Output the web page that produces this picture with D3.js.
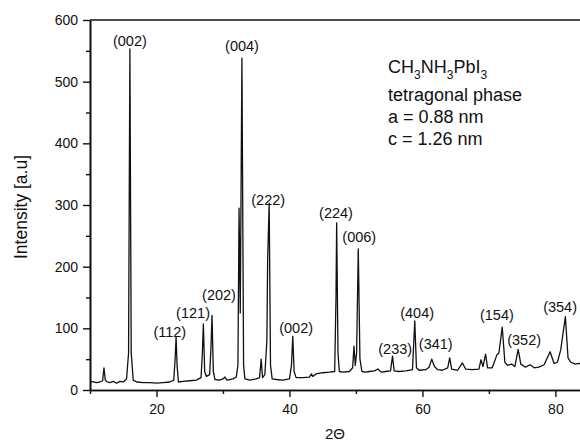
<!DOCTYPE html>
<html><head><meta charset="utf-8">
<script src="https://cdn.jsdelivr.net/npm/d3@7"></script>
<style>body{margin:0;background:#fff}svg{display:block}text{font-family:"Liberation Sans",Arial,sans-serif;fill:#111}</style>
</head><body><svg id="c" width="580" height="443"></svg>
<script>
const twoTheta = [10,10.5,11,11.5,11.9,12.1,12.3,12.6,13,13.5,14,14.5,15,15.5,15.8,16.0,16.2,16.5,17,18,19,20,21,22,22.6,22.8,22.95,23.1,23.3,24,25,26,26.7,26.9,27.05,27.25,27.5,28.0,28.2,28.35,28.55,28.8,29.5,30,30.3,30.6,31,31.5,32,32.25,32.42,32.6,32.85,33.1,33.3,34,35,35.5,35.75,35.95,36.3,36.6,36.72,36.95,37.15,37.4,38,39,40,40.3,40.5,40.7,41,42,43,43.3,43.5,44,45,46,46.8,47.0,47.1,47.3,47.5,48,49,49.5,49.7,49.9,50.1,50.35,50.6,50.9,51.5,52,52.8,53.3,53.8,54.5,55.2,55.5,55.75,56.5,57.5,58.5,58.85,59.1,59.5,60.5,61,61.4,61.8,62.3,63,63.8,64.1,64.4,65.3,66.0,66.5,67.5,68.5,68.8,69.1,69.5,69.8,70.5,71.2,71.5,72.0,72.4,72.8,73.4,73.9,74.4,74.8,75.5,76.2,76.8,77.5,78.3,79.2,79.8,80.3,80.8,81.5,81.9,82.3,83,83.5,84];
const intensity = [14,13,12,13,15,36,16,13,12,14,11,14,13,18,60,553,60,16,13,12,12,11,12,13,16,50,86,40,13,14,15,16,20,60,107,30,22,25,70,121,30,17,16,18,21,16,17,18,21,40,295,125,538,40,18,16,18,20,50,20,25,80,211,303,40,18,17,16,18,40,87,30,20,20,21,26,22,26,28,29,30,150,271,60,30,29,30,36,71,40,60,229,50,30,29,30,31,34,29,30,31,55,31,30,31,33,112,36,32,33,37,50,38,33,32,36,52,34,32,44,34,33,34,49,38,58,36,36,57,60,102,45,40,42,38,66,42,37,41,36,37,41,62,43,45,65,119,52,45,42,43,42];
const peakLabels = ["(002)","(112)","(121)","(202)","(004)","(222)","(002)","(224)","(006)","(233)","(404)","(341)","(154)","(352)","(354)"];
const peakLabelX = [16.0,22.0,25.5,29.4,32.86,36.8,41.0,47.0,50.5,55.9,59.2,62.0,71.2,75.3,80.7];
const peakLabelY = [555,83,113.5,143,546.5,297,89,276,237,55,113.5,63,110,70,123];
const xMajorTicks = [20,40,60,80];
const xMinorTicks = [10,30,50,70];
const yMajorTicks = [0,100,200,300,400,500,600];
const yMinorTicks = [50,150,250,350,450,550];
const annotation = [[["CH",false],["3",true],["NH",false],["3",true],["PbI",false],["3",true]],[["tetragonal phase",false]],[["a = 0.88 nm",false]],[["c = 1.26 nm",false]]];

const svg = d3.select("#c");
const L=90, T=20, R=582, B=390;
const x = d3.scaleLinear().domain([10,84]).range([L,R]);
const y = d3.scaleLinear().domain([0,600]).range([B,T]);

// data line
const pts = twoTheta.map((t,i)=>[t,intensity[i]]);
svg.append("path").datum(pts)
  .attr("fill","none").attr("stroke","#111").attr("stroke-width",1.3).attr("stroke-linejoin","round")
  .attr("d", d3.line().x(d=>x(d[0])).y(d=>y(d[1])));

// axes
function styleAxis(g){ g.select(".domain").attr("stroke","#111").attr("stroke-width",1.6);
  g.selectAll(".tick line").attr("stroke","#111").attr("stroke-width",1.4);
  g.selectAll("text").attr("font-size",14).attr("fill","#111").attr("font-family","Liberation Sans, Arial, sans-serif"); }
svg.append("g").attr("transform",`translate(0,${B})`)
  .call(d3.axisBottom(x).tickValues(xMinorTicks).tickSize(4).tickFormat("").tickSizeOuter(0)).call(styleAxis);
svg.append("g").attr("transform",`translate(0,${B})`)
  .call(d3.axisBottom(x).tickValues(xMajorTicks).tickSize(7).tickPadding(7).tickSizeOuter(0)).call(styleAxis);
svg.append("g").attr("transform",`translate(${L},0)`)
  .call(d3.axisLeft(y).tickValues(yMinorTicks).tickSize(4).tickFormat("").tickSizeOuter(0)).call(styleAxis);
svg.append("g").attr("transform",`translate(${L},0)`)
  .call(d3.axisLeft(y).tickValues(yMajorTicks).tickSize(7).tickPadding(5).tickSizeOuter(0)).call(styleAxis);
svg.append("line").attr("x1",L).attr("x2",580).attr("y1",T).attr("y2",T).attr("stroke","#111").attr("stroke-width",1.6);

// axis titles
svg.append("text").attr("transform",`translate(27,207) rotate(-90)`)
  .attr("text-anchor","middle").attr("font-size",17.5).text("Intensity [a.u]");
svg.append("text").attr("x",335).attr("y",439).attr("text-anchor","middle").attr("font-size",15).text("2Θ");

// peak labels
svg.append("g").selectAll("text").data(peakLabels).join("text")
  .attr("x",(d,i)=>x(peakLabelX[i])).attr("y",(d,i)=>y(peakLabelY[i])-2)
  .attr("text-anchor","middle").attr("font-size",14.5).text(d=>d);

// annotation
const baselines=[73,101,123,145];
annotation.forEach((line,i)=>{
  const t=svg.append("text").attr("x",388).attr("y",baselines[i]).attr("font-size",18);
  let shifted=false;
  line.forEach(([s,sub])=>{
    const ts=t.append("tspan").text(s);
    if(sub){ ts.attr("font-size",12).attr("dy",shifted?0:6); shifted=true; }
    else { ts.attr("dy",shifted?-6:0); shifted=false; }
  });
});
</script></body></html>
